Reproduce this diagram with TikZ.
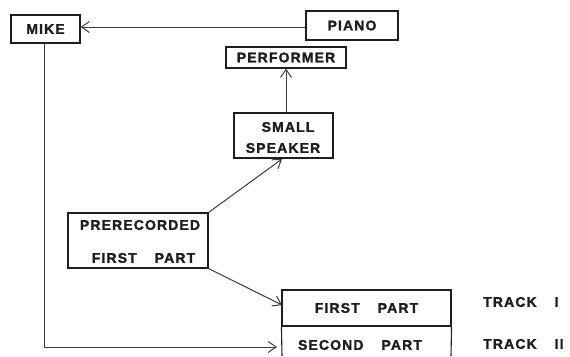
\documentclass[tikz,border=0pt]{standalone}
\usepackage{fontspec}
\setmainfont{Liberation Sans}[LetterSpace=8, BoldFont={Liberation Sans Bold}, BoldFeatures={FakeBold=1.5}]
\usetikzlibrary{arrows.meta}
\definecolor{ink}{HTML}{1E1E1E}
\definecolor{wire}{HTML}{3C3C3C}
\newcommand{\wgap}{\hspace{18pt}}
\tikzset{
  box/.style={draw=ink, line width=1.1pt, inner sep=0pt, font=\fontsize{14}{16}\selectfont\bfseries, text=ink},
  lbl/.style={inner sep=0pt, font=\fontsize{14}{16}\selectfont\bfseries, text=ink},
  conn/.style={draw=wire, line width=1pt, -{Straight Barb[length=8pt,width=11pt,line width=1pt]}},
  plain/.style={draw=ink, line width=1.1pt}
}
\begin{document}
\begin{tikzpicture}[x=1pt,y=-1pt]
\useasboundingbox[fill=white] (0,0) rectangle (570,356);
\node[box, minimum width=69pt, minimum height=28pt] (mike) at (45.5,29) {MIKE};
\node[box, minimum width=92pt, minimum height=29pt] (piano) at (352,25.5) {PIANO};
\node[box, minimum width=120pt, minimum height=21pt] (perf) at (286,57.5) {PERFORMER};
\node[box, minimum width=99pt, minimum height=45pt] (spk) at (283.5,135.5) {};
\node[lbl] (spk1) at (288,127) {SMALL};
\node[lbl] (spk2) at (283,148) {SPEAKER};
\node[box, minimum width=140pt, minimum height=55pt] (pre) at (138,240.5) {};
\node[lbl] (pre1) at (140,225) {PRERECORDED};
\node[lbl] (pre2) at (143.5,258) {FIRST\wgap PART};
\node[box, minimum width=169pt, minimum height=36pt] (first) at (366.5,308) {FIRST\wgap PART};
\coordinate (sbl) at (282,356);
\coordinate (sbr) at (451,356);
\node[lbl] (second) at (360,345) {SECOND\wgap PART};
\draw[plain] (first.south west) -- (sbl);
\draw[plain] (first.south east) -- (sbr);
\node[lbl, anchor=west] (tr1) at (483,302) {TRACK\wgap I};
\node[lbl, anchor=west] (tr2) at (483,344) {TRACK\wgap II};
\coordinate (mikein) at (277,347);
\draw[conn] (piano.west |- 0,27) -- (mike.east |- 0,27);
\draw[conn] (spk.north -| perf.south) -- (perf.south);
\draw[conn] (pre.north east) -- (282,159);
\draw[conn] (pre.south east) -- (282,305);
\draw[conn] (mike.south -| 44,0) |- (mikein);
\end{tikzpicture}
\end{document}
